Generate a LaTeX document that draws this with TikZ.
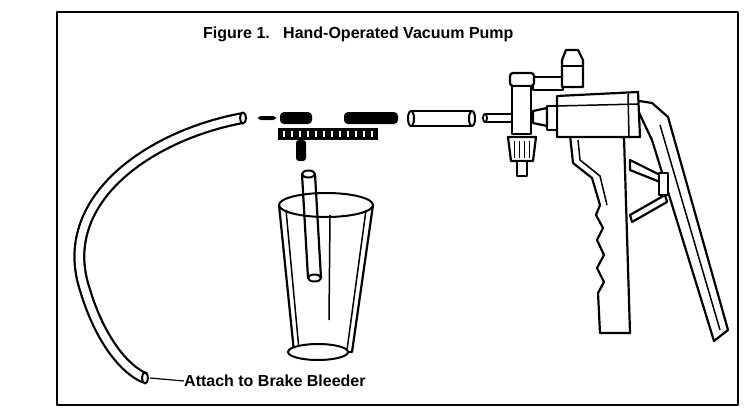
\documentclass[tikz,border=0pt]{standalone}
\usepackage{fontspec}
\setmainfont{Liberation Sans}
\begin{document}
\begin{tikzpicture}[x=1pt,y=-1pt,line join=round,
    tube/.style={line width=12pt,black,line cap=butt},
    tubein/.style={line width=7.5pt,white,line cap=butt},
    part/.style={draw=black,line width=2.2pt,fill=white},
    dark/.style={fill=black},
    label/.style={font=\bfseries\fontsize{16}{18}\selectfont,inner sep=0pt}]
    \useasboundingbox (0,0) rectangle (754,415);

    % Frame and texts
    \draw[line width=1.5pt] (57,12) rectangle (738,405);
    \node[label,anchor=west] (title) at (203,34) {Figure 1.\ \ \ Hand-Operated Vacuum Pump};
    \node[label,anchor=west] (attach) at (184,381) {Attach to Brake Bleeder};

    % Hose
    \draw[tube] (243,118) .. controls (150,135) and (55,200) .. (85,290) .. controls (100,340) and (125,370) .. (145,378);
    \draw[tubein] (243,118) .. controls (150,135) and (55,200) .. (85,290) .. controls (100,340) and (125,370) .. (145,378);
    \draw[line width=2pt,fill=white] (145,378) ellipse (3 and 5.5);
    \draw[line width=2pt,fill=white] (243,118) ellipse (3 and 5.5);
    \coordinate (hoseend) at (150,378);
    \draw[line width=1.2pt] (hoseend) -- (attach.west);

    % Tee fitting
    \fill[dark,rounded corners=3pt] (258,116) rectangle (276,120);
    \fill[dark,rounded corners=4pt] (280,112) rectangle (312,124);
    \fill[dark,rounded corners=4pt] (344,112) rectangle (398,124);
    \fill[dark] (278,128) rectangle (378,140);
    \foreach \i in {283,291,...,371}
      \fill[white] (\i,131) rectangle ++(2,6);
    \fill[dark,rounded corners=3pt] (296,140) rectangle (306,161);

    % Loose tubes
    \draw[part] (411,111) rectangle (472,126);
    \draw[line width=2pt,fill=white] (411,118.5) ellipse (3 and 7.5);
    \draw[line width=2pt,fill=white] (472,118.5) ellipse (3 and 7.5);
    \draw[part] (485,114) rectangle (512,122);
    \draw[line width=1.8pt,fill=white] (485,118) ellipse (2 and 4);

    % Collection cup
    \draw[part] (279,205) -- (294,352) -- (352,352) -- (373,205);
    \draw[line width=1.5pt] (286,210) -- (299,350) (366,210) -- (347,350) (330,215) -- (329,320);
    \draw[line width=2pt,fill=white] (318,352) ellipse (30 and 8);
    \draw[part] (302,174) -- (308,278) -- (321,278) -- (315,174);
    \draw[line width=2pt] (326,205) ellipse (47 and 12);
    \draw[line width=2pt,fill=white] (308.5,174) ellipse (6.5 and 3.5);
    \draw[line width=2pt,fill=white] (314.5,278) ellipse (6.5 and 3.5);

    % Pump lever
    \draw[part] (633,100) -- (652,103) -- (668,117) -- (728,330) -- (714,341) -- (652,140) -- cycle;
    \draw[line width=1.5pt] (660,125) -- (720,330);
    \draw[part] (630,160) -- (660,175) -- (660,182) -- (630,170) -- cycle;
    \draw[part] (630,215) -- (665,195) -- (667,202) -- (632,222) -- cycle;
    \draw[part] (659,173) rectangle (668,195);

    % Pump grip
    \draw[part] (570,135) -- (573,163) -- (592,178) -- (600,205) -- (596,215) -- (603,228) -- (597,240)
      -- (604,255) -- (597,268) -- (604,282) -- (598,293) -- (600,333) -- (630,333) -- (624,137) -- cycle;
    \draw[line width=1.5pt] (578,140) -- (580,160) -- (600,176) -- (607,205);

    % Pump cylinder
    \draw[part] (557,96) -- (638,92) -- (640,137) -- (557,137) -- cycle;
    \draw[line width=1.5pt] (557,106) -- (638,104) (628,94) -- (629,137);
    \draw[part] (547,106) rectangle (557,130);
    \draw[part] (533,111) -- (547,108) -- (547,126) -- (533,123) -- cycle;

    % Valve block
    \draw[part] (533,77) -- (563,77) -- (563,90) -- (533,90) -- cycle;
    \draw[part,rounded corners=3pt] (510,73) rectangle (534,86);
    \draw[part] (512,86) rectangle (531,134);
    \draw[part] (562,60) -- (566,50) -- (578,50) -- (583,60) -- (583,87) -- (562,87) -- cycle;
    \draw[line width=1.5pt] (562,66) -- (583,66);
    \draw[part] (508,137) -- (536,137) -- (533,161) -- (511,161) -- cycle;
    \foreach \i in {514,519,...,531}
      \draw[line width=1pt] (\i,141) -- (\i,158);
    \draw[part] (517,161) rectangle (527,176);
\end{tikzpicture}
\end{document}
